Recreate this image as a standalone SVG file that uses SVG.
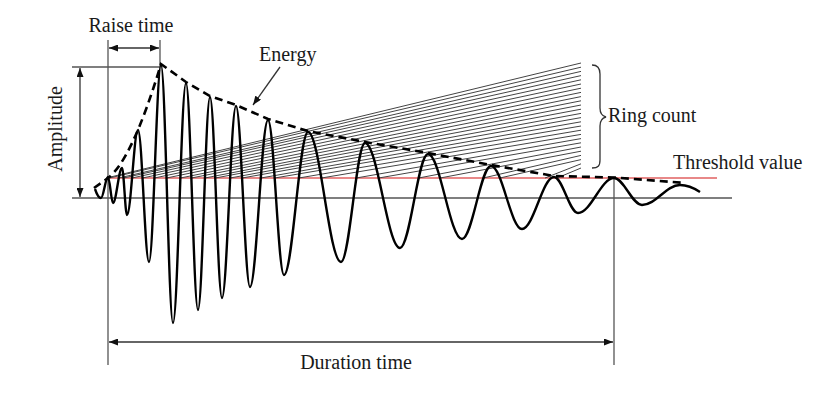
<svg xmlns="http://www.w3.org/2000/svg" width="832" height="394" viewBox="0 0 832 394">
<style>
.txt{font-family:"Liberation Serif","Times New Roman",serif;font-size:20px;fill:#1a1a1a}
.guide{stroke:#555;stroke-width:1.3;fill:none}
.arr{stroke:#333;stroke-width:1.3;fill:none;marker-start:url(#ah);marker-end:url(#ah)}
.fan line{stroke:#444;stroke-width:1}
.wave{stroke:#000;stroke-width:2.4;fill:none;stroke-linejoin:round}
.env{stroke:#000;stroke-width:2.6;fill:none;stroke-dasharray:8 5}
</style>
<defs>
<marker id="ah" viewBox="0 0 10 10" refX="10" refY="5" markerWidth="9" markerHeight="7" markerUnits="userSpaceOnUse" orient="auto-start-reverse" preserveAspectRatio="none">
<path d="M0,0 L10,5 L0,10 Z" fill="#111"/>
</marker>
</defs>
<rect width="832" height="394" fill="#fff"/>
<g id="axes">
<line class="guide" x1="72" y1="198" x2="732" y2="198"/>
<line class="guide" x1="108" y1="40" x2="108" y2="365"/>
<line class="guide" x1="614" y1="178" x2="614" y2="365"/>
<line class="guide" x1="160" y1="40" x2="160" y2="66"/>
<line class="guide" x1="72" y1="67" x2="160" y2="67"/>
</g>
<g id="threshold">
<line x1="108" y1="178" x2="717" y2="178" stroke="#e06060" stroke-width="1.3"/>
</g>
<g id="fan" class="fan">
<line x1="106.5" y1="178" x2="581" y2="63"/>
<line x1="109.5" y1="178" x2="581" y2="67.2"/>
<line x1="118.8" y1="178" x2="581" y2="71.4"/>
<line x1="123.5" y1="178" x2="581" y2="75.6"/>
<line x1="132" y1="178" x2="581" y2="79.8"/>
<line x1="142.5" y1="178" x2="581" y2="84"/>
<line x1="154.4" y1="178" x2="581" y2="88.2"/>
<line x1="166.5" y1="178" x2="581" y2="92.4"/>
<line x1="180.4" y1="178" x2="581" y2="96.6"/>
<line x1="191.4" y1="178" x2="581" y2="100.8"/>
<line x1="204.9" y1="178" x2="581" y2="105"/>
<line x1="215.3" y1="178" x2="581" y2="109.2"/>
<line x1="230.1" y1="178" x2="581" y2="113.4"/>
<line x1="242.1" y1="178" x2="581" y2="117.6"/>
<line x1="260.8" y1="178" x2="581" y2="121.8"/>
<line x1="274.7" y1="178" x2="581" y2="126"/>
<line x1="298.8" y1="178" x2="581" y2="130.2"/>
<line x1="321.4" y1="178" x2="581" y2="134.4"/>
<line x1="356.2" y1="178" x2="581" y2="138.6"/>
<line x1="378.7" y1="178" x2="581" y2="142.8"/>
<line x1="418.6" y1="178" x2="581" y2="147"/>
<line x1="440.1" y1="178" x2="581" y2="151.2"/>
<line x1="483.3" y1="178" x2="581" y2="155.4"/>
<line x1="499.9" y1="178" x2="581" y2="159.6"/>
<line x1="545" y1="178" x2="581" y2="163.8"/>
<line x1="557" y1="178" x2="581" y2="168"/>
</g>
<g id="waveform">
<path class="wave" d="M95,189 C97,195 99,198 101,198 C103.5,198 105.5,177 108,177 C109.8,177 111.2,203 113,203 C116.2,203 118.8,168 122,168 C123.8,168 125.2,215 127,215 C131,215 134,130 138,130 C142,130 145,262 149,262 C153.3,262 156.7,65 161,65 C165.3,65 168.7,323 173,323 C177.7,323 181.3,83 186,83 C190.3,83 193.7,310 198,310 C202.3,310 205.7,97 210,97 C214.3,97 217.7,298 222,298 C227,298 231,106 236,106 C241,106 245,287 250,287 C256.5,287 261.5,120 268,120 C273.8,120 278.2,275 284,275 C292.6,275 299.4,132 308,132 C319.9,132 329.1,262 341,262 C349.6,262 356.4,143 365,143 C377.6,143 387.4,248 400,248 C410.1,248 417.9,154 428,154 C440.2,154 449.8,239 462,239 C472.4,239 480.6,166 491,166 C502.2,166 510.8,229 522,229 C533.5,229 542.5,177 554,177 C562.6,177 569.4,213 578,213 C591,213 601,178 614,178 C624,178 632,205 642,205 C655.7,205 666.3,185 680,185 C688,185 694,188 700,192"/>
</g>
<g id="envelope">
<path class="env" d="M94,188 L108,178 Q132,160 161,64 L186,82 L210,96 L236,105 L268,119 L308,131 L365,142 L428,153 L491,165 L554,176 L614,177.5 L685,183"/>
</g>
<g id="connectors">
<line class="arr" x1="109" y1="48" x2="159" y2="48"/>
<line class="arr" x1="80" y1="68" x2="80" y2="197"/>
<line class="arr" x1="109" y1="342" x2="613" y2="342"/>
<line x1="280" y1="67" x2="253" y2="105" stroke="#333" stroke-width="1.3" marker-end="url(#ah)"/>
<path d="M592,65 C598,65 600,68 600,74 L600,108 C600,113 602,116 606,117 C602,118 600,121 600,126 L600,160 C600,166 598,168 592,168" stroke="#333" stroke-width="1.3" fill="none"/>
</g>
<g id="labels">
<text class="txt" x="131" y="32" text-anchor="middle">Raise time</text>
<text class="txt" x="259" y="61">Energy</text>
<text class="txt" x="608" y="122">Ring count</text>
<text class="txt" x="673" y="169">Threshold value</text>
<text class="txt" x="356" y="369" text-anchor="middle">Duration time</text>
<text class="txt" transform="translate(62,129) rotate(-90)" text-anchor="middle">Amplitude</text>
</g>
</svg>
